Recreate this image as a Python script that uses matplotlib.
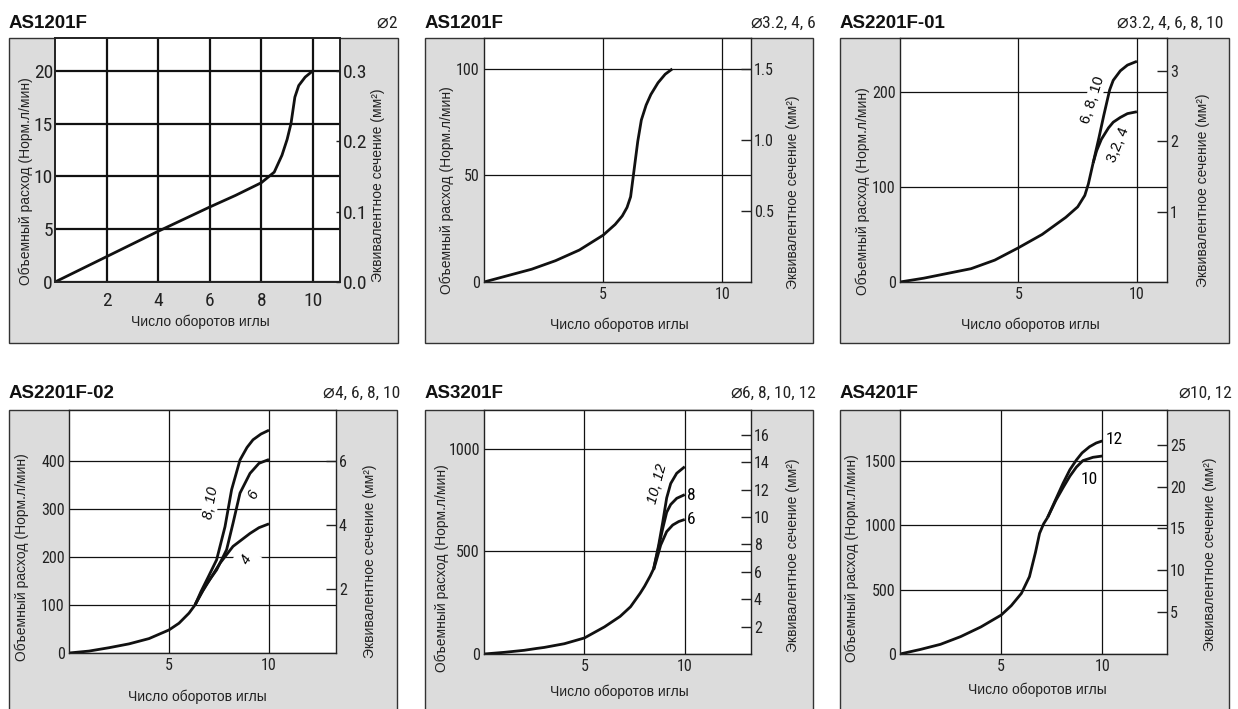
import matplotlib
matplotlib.use("Agg")
import matplotlib.pyplot as plt
from matplotlib import font_manager
from matplotlib.font_manager import FontProperties
from matplotlib.patches import Rectangle

plt.rcParams['font.family'] = ['Liberation Sans', 'DejaVu Sans']


def find_narrow():
    # a condensed sans for the digits, if one is installed
    fl = font_manager.fontManager.ttflist

    def regular(f):
        return f.style == 'normal' and str(f.weight) in ('400', 'normal', 'regular', 'book')

    for name in ['Liberation Sans Narrow', 'Roboto Condensed', 'Open Sans Condensed',
                 'Noto Sans Condensed', 'Arial Narrow']:
        for f in fl:
            if f.name == name and regular(f):
                return f.fname
    for f in fl:
        p = f.fname.lower()
        if regular(f) and ('condensed' in p or 'narrow' in p) and 'bold' not in p \
                and 'oblique' not in p and 'italic' not in p and 'mono' not in p \
                and 'serif' not in p.replace('sans', ''):
            return f.fname
    return None


NARROW_FILE = find_narrow()


def tick_font(size):
    if NARROW_FILE:
        return FontProperties(fname=NARROW_FILE, size=size)
    return FontProperties(family='Liberation Sans', size=size * 0.86)


# ---- data ----
titles = ['AS1201F', 'AS1201F', 'AS2201F-01', 'AS2201F-02', 'AS3201F', 'AS4201F']
sizes = ['2', '3.2, 4, 6', '3.2, 4, 6, 8, 10', '4, 6, 8, 10', '6, 8, 10, 12', '10, 12']
dia = '⌀'
xlabel = 'Число оборотов иглы'
ylabel_left = 'Объемный расход (Норм.л/мин)'
ylabel_right = 'Эквивалентное сечение (мм²)'

# AS1201F ø2
p1_x = [0, 2, 4, 6, 7, 8, 8.5, 8.8, 9.0, 9.15, 9.3, 9.45, 9.7, 10]
p1_y = [0, 2.4, 4.8, 7.1, 8.2, 9.4, 10.4, 12.0, 13.5, 15.0, 17.5, 18.6, 19.4, 20.0]

# AS1201F ø3.2, 4, 6
p2_x = [0, 1, 2, 3, 4, 5, 5.5, 5.8, 6.0, 6.15, 6.3, 6.45, 6.6, 6.8, 7.0, 7.3, 7.6, 7.9]
p2_y = [0, 3, 6, 10, 15, 22, 27, 31, 35, 40, 53, 66, 76, 83, 88, 93.5, 97.5, 100]

# AS2201F-01
p3_common_x = [0, 1, 2, 3, 4, 5, 6, 7, 7.5, 7.8, 7.95, 8.15]
p3_common_y = [0, 4, 9, 14, 23, 36, 50, 68, 79, 91, 103, 125]
p3_big_x = [8.15, 8.4, 8.6, 8.85, 9.0, 9.3, 9.6, 10]
p3_big_y = [125, 152, 175, 202, 212, 222, 228, 232]
p3_small_x = [8.15, 8.3, 8.5, 8.8, 9.0, 9.3, 9.6, 10]
p3_small_y = [125, 138, 150, 162, 168, 173, 177, 179]

# AS2201F-02
p4_common_x = [0, 1, 2, 3, 4, 5, 5.5, 6.0, 6.3]
p4_common_y = [0, 4, 11, 19, 30, 48, 62, 83, 100]
p4_810_x = [6.3, 6.6, 6.97, 7.38, 7.8, 8.13, 8.55, 8.9, 9.2, 9.6, 10]
p4_810_y = [100, 128, 159, 194, 263, 340, 402, 428, 444, 456, 464]
p4_6_x = [6.3, 6.6, 6.9, 7.38, 7.88, 8.2, 8.55, 9.05, 9.5, 10]
p4_6_y = [100, 124, 145, 173, 215, 270, 333, 374, 395, 403]
p4_4_x = [6.3, 6.7, 7.13, 7.55, 8.2, 9.05, 9.5, 10]
p4_4_y = [100, 130, 159, 187, 222, 249, 261, 269]

# AS3201F
p5_common_x = [0, 1, 2, 2.62, 3, 4, 5, 6, 6.78, 7.3, 7.78, 8.0, 8.28, 8.45]
p5_common_y = [0, 8, 18, 27, 32, 50, 78, 132, 183, 230, 296, 330, 380, 415]
p5_1012_x = [8.45, 8.7, 8.9, 9.1, 9.3, 9.6, 10]
p5_1012_y = [415, 530, 640, 760, 830, 880, 912]
p5_8_x = [8.45, 8.7, 8.9, 9.1, 9.3, 9.6, 10]
p5_8_y = [415, 520, 610, 690, 728, 758, 776]
p5_6_x = [8.45, 8.6, 8.8, 9.1, 9.4, 9.7, 10]
p5_6_y = [410, 460, 530, 596, 628, 645, 655]

# AS4201F
p6_common_x = [0, 1, 2, 3, 4, 5, 5.5, 6.0, 6.4, 6.7, 6.9, 7.1, 7.3]
p6_common_y = [0, 35, 75, 135, 210, 302, 375, 470, 600, 790, 936, 1010, 1060]
p6_12_x = [7.3, 7.7, 8.06, 8.4, 8.72, 9.0, 9.37, 9.7, 10]
p6_12_y = [1060, 1200, 1324, 1430, 1505, 1560, 1608, 1637, 1653]
p6_10_x = [7.3, 7.7, 8.06, 8.4, 8.72, 9.04, 9.54, 10]
p6_10_y = [1060, 1190, 1290, 1380, 1450, 1500, 1526, 1536]

# ---- layout (pixels) ----
W, H = 1238, 709
fig = plt.figure(figsize=(W / 100, H / 100), dpi=100)
fig.patch.set_facecolor('white')
renderer = fig.canvas.get_renderer()


def frect(x0, y0, x1, y1):
    return [x0 / W, 1 - y1 / H, (x1 - x0) / W, (y1 - y0) / H]


def fx(px):
    return px / W


def fy(py):
    return 1 - py / H


panels = [
    dict(box=(9, 38, 398, 343), ax=(55, 38, 340, 282), xlim=11.05, ylim=23.1, k=0.015,
         xt=[2, 4, 6, 8, 10], yt=[0, 5, 10, 15, 20],
         rt=[0, 0.1, 0.2, 0.3], rl=['0.0', '0.1', '0.2', '0.3'],
         ttl=(9, 28), sz=397, yl=(26, 181), yr=(378, 185), xl=(200, 322)),
    dict(box=(425, 38, 813, 343), ax=(484, 38, 751, 282), xlim=11.2, ylim=114.5, k=0.015,
         xt=[5, 10], yt=[0, 50, 100], rt=[0.5, 1.0, 1.5], rl=['0.5', '1.0', '1.5'],
         ttl=(425, 28), sz=816, yl=(447, 190), yr=(793, 192), xl=(619, 325)),
    dict(box=(840, 38, 1229, 343), ax=(900, 38, 1167, 282), xlim=11.27, ylim=256.5, k=0.0135,
         xt=[5, 10], yt=[0, 100, 200], rt=[1, 2, 3], rl=['1', '2', '3'],
         ttl=(840, 28), sz=1223, yl=(863, 191), yr=(1203, 190), xl=(1030, 325)),
    dict(box=(9, 410, 397, 730), ax=(69, 410, 336, 653), xlim=13.35, ylim=506, k=0.015,
         xt=[5, 10], yt=[0, 100, 200, 300, 400], rt=[2, 4, 6], rl=['2', '4', '6'],
         ttl=(9, 398), sz=400, yl=(22, 557), yr=(370, 561), xl=(197, 697)),
    dict(box=(425, 410, 813, 730), ax=(484, 410, 751, 654), xlim=13.3, ylim=1188, k=0.015,
         xt=[5, 10], yt=[0, 500, 1000], rt=[2, 4, 6, 8, 10, 12, 14, 16],
         rl=['2', '4', '6', '8', '10', '12', '14', '16'],
         ttl=(425, 398), sz=816, yl=(442, 568), yr=(793, 555), xl=(619, 692)),
    dict(box=(840, 410, 1229, 730), ax=(900, 410, 1167, 654), xlim=13.2, ylim=1893, k=0.0154,
         xt=[5, 10], yt=[0, 500, 1000, 1500], rt=[5, 10, 15, 20, 25],
         rl=['5', '10', '15', '20', '25'],
         ttl=(840, 398), sz=1232, yl=(852, 558), yr=(1210, 554), xl=(1037, 690)),
]

axes = []
for i, p in enumerate(panels):
    first = (i == 0)
    bx0, by0, bx1, by1 = p['box']
    fig.add_artist(Rectangle((fx(bx0), fy(by1)), (bx1 - bx0) / W, (by1 - by0) / H,
                             transform=fig.transFigure, facecolor='#dcdcdc',
                             edgecolor='#333333', lw=1.0, zorder=-5))
    ax = fig.add_axes(frect(*p['ax']))
    ax.set_facecolor('white')
    ax.set_xlim(0, p['xlim'])
    ax.set_ylim(0, p['ylim'])
    ax.set_xticks(p['xt'])
    ax.set_yticks(p['yt'])
    glw = 1.6 if first else 0.9
    ax.grid(True, color='#111111', lw=glw)
    ax.set_axisbelow(True)
    for s in ax.spines.values():
        s.set_color('#222222')
        s.set_linewidth(1.4 if first else 1.0)
    tf = tick_font(14 if first else 11.5)
    ax.tick_params(axis='both', length=0, colors='#222222')
    ax.tick_params(axis='y', pad=1.5 if first else 3)
    ax.tick_params(axis='x', pad=7 if first else 3.5)
    for lab in ax.get_xticklabels() + ax.get_yticklabels():
        lab.set_fontproperties(tf)

    rax = ax.twinx()
    rax.set_ylim(0, p['ylim'] * p['k'])
    rax.set_yticks(p['rt'])
    rax.set_yticklabels(p['rl'])
    rax.tick_params(axis='y', direction='in', length=3 if first else 7, width=1.0,
                    pad=2, colors='#222222')
    for lab in rax.get_yticklabels():
        lab.set_fontproperties(tf)
    for s in rax.spines.values():
        s.set_visible(False)

    fig.text(fx(p['ttl'][0]), fy(p['ttl'][1]), titles[i], fontsize=13.5,
             fontweight='bold', ha='left', va='baseline', color='#111111')
    st = fig.text(fx(p['sz']), fy(p['ttl'][1]), sizes[i], fontproperties=tick_font(12.5),
                  ha='right', va='baseline', color='#222222')
    ext = st.get_window_extent(renderer=renderer)
    fig.text(ext.x0 / W - 0.5 / W, fy(p['ttl'][1]), dia, fontsize=14,
             family=['DejaVu Sans'], ha='right', va='baseline', color='#222222')
    fig.text(fx(p['yl'][0]), fy(p['yl'][1]), ylabel_left, rotation=90, fontsize=10,
             ha='center', va='center', color='#222222')
    fig.text(fx(p['yr'][0]), fy(p['yr'][1]), ylabel_right, rotation=90, fontsize=10,
             ha='center', va='center', color='#222222')
    fig.text(fx(p['xl'][0]), fy(p['xl'][1]), xlabel, fontsize=10,
             ha='center', va='center', color='#222222')
    axes.append(ax)

kw = dict(color='#111111', lw=2.0, solid_capstyle='butt', solid_joinstyle='round')
box_w = dict(facecolor='white', edgecolor='none', pad=0.5)
lf = 10.5

ax = axes[0]
ax.plot(p1_x, p1_y, **kw)

ax = axes[1]
ax.plot(p2_x, p2_y, **kw)

ax = axes[2]
ax.plot(p3_common_x, p3_common_y, **kw)
ax.plot(p3_big_x, p3_big_y, **kw)
ax.plot(p3_small_x, p3_small_y, **kw)
ax.text(8.14, 191, '6, 8, 10', rotation=72, fontsize=lf, ha='center', va='center',
        rotation_mode='anchor', bbox=box_w)
ax.text(9.22, 144, '3,2, 4', rotation=68, fontsize=lf, ha='center', va='center',
        rotation_mode='anchor', bbox=box_w)

ax = axes[3]
ax.plot(p4_common_x, p4_common_y, **kw)
ax.plot(p4_810_x, p4_810_y, **kw)
ax.plot(p4_6_x, p4_6_y, **kw)
ax.plot(p4_4_x, p4_4_y, **kw)
ax.text(7.08, 312, '8, 10', rotation=80, fontsize=lf, ha='center', va='center',
        rotation_mode='anchor', style='italic', bbox=box_w)
ax.text(9.22, 329, '6', rotation=65, fontsize=lf, ha='center', va='center',
        rotation_mode='anchor', style='italic', bbox=box_w)
ax.text(8.88, 194, '4', rotation=60, fontsize=lf, ha='center', va='center',
        rotation_mode='anchor', style='italic',
        bbox=dict(facecolor='white', edgecolor='none', pad=4))

ax = axes[4]
ax.plot(p5_common_x, p5_common_y, **kw)
ax.plot(p5_1012_x, p5_1012_y, **kw)
ax.plot(p5_8_x, p5_8_y, **kw)
ax.plot(p5_6_x, p5_6_y, **kw)
ax.text(8.62, 831, '10, 12', rotation=75, fontsize=lf, ha='center', va='center',
        rotation_mode='anchor', style='italic')
ax.text(10.1, 774, '8', fontproperties=tick_font(12.5), ha='left', va='center')
ax.text(10.1, 653, '6', fontproperties=tick_font(12.5), ha='left', va='center')

ax = axes[5]
ax.plot(p6_common_x, p6_common_y, **kw)
ax.plot(p6_12_x, p6_12_y, **kw)
ax.plot(p6_10_x, p6_10_y, **kw)
ax.text(10.15, 1665, '12', fontproperties=tick_font(12.5), ha='left', va='center')
ax.text(9.34, 1350, '10', fontproperties=tick_font(12.5), ha='center', va='center')

fig.savefig('out.png', dpi=100)
